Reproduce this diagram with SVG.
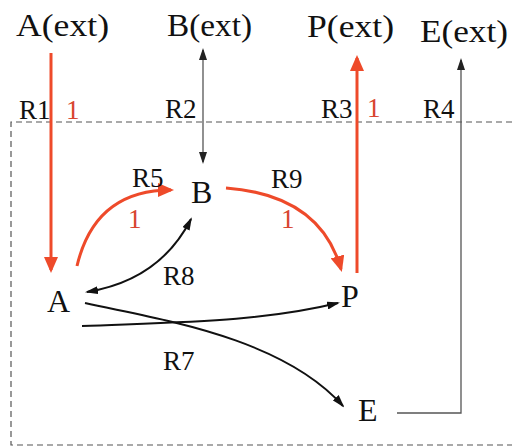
<svg xmlns="http://www.w3.org/2000/svg" width="512" height="448" viewBox="0 0 512 448">
<style>
text{font-family:"Liberation Serif","Times New Roman",serif;fill:#111}
.ext{font-size:31px}
.node{font-size:32px}
.rl{font-size:27px}
.one{font-size:27px;fill:#d8452f}
.red{fill:none;stroke:#ee4a2a;stroke-width:3}
.blk{fill:none;stroke:#111;stroke-width:2}
.gry{fill:none;stroke:#555;stroke-width:1.3}
.box{fill:none;stroke:#555;stroke-width:1.2;stroke-dasharray:6 4}
</style>
<defs>
<marker id="hr" viewBox="0 0 16 14" refX="13" refY="7" markerWidth="16" markerHeight="14" markerUnits="userSpaceOnUse" orient="auto"><path d="M0,0 L16,7 L0,14 z" fill="#ee4a2a"/></marker>
<marker id="hb" viewBox="0 0 13 8" refX="11" refY="4" markerWidth="13" markerHeight="8" markerUnits="userSpaceOnUse" orient="auto-start-reverse"><path d="M0,0 L13,4 L0,8 z" fill="#111"/></marker>
<marker id="hg" viewBox="0 0 12 8" refX="10" refY="4" markerWidth="12" markerHeight="8" markerUnits="userSpaceOnUse" orient="auto-start-reverse"><path d="M0,0 L12,4 L0,8 z" fill="#222"/></marker>
</defs>
<rect width="512" height="448" fill="#fff"/>
<path class="box" d="M512,122 H11 V445 H512"/>
<g id="A_ext"><text class="ext" x="16" y="36" textLength="93" lengthAdjust="spacingAndGlyphs">A(ext)</text></g>
<g id="B_ext"><text class="ext" x="167" y="36" textLength="85" lengthAdjust="spacingAndGlyphs">B(ext)</text></g>
<g id="P_ext"><text class="ext" x="307" y="37" textLength="87" lengthAdjust="spacingAndGlyphs">P(ext)</text></g>
<g id="E_ext"><text class="ext" x="420" y="42" textLength="88" lengthAdjust="spacingAndGlyphs">E(ext)</text></g>
<g id="A"><text class="node" x="47" y="312">A</text></g>
<g id="B"><text class="node" x="191" y="203">B</text></g>
<g id="P"><text class="node" x="341" y="307">P</text></g>
<g id="E"><text class="node" x="358" y="421">E</text></g>
<g id="connectors">
<path class="red" d="M51,53 V270" marker-end="url(#hr)"/>
<path class="red" d="M357,273 V58" marker-end="url(#hr)"/>
<path class="gry" d="M203,50 V162" marker-start="url(#hg)" marker-end="url(#hg)"/>
<path class="gry" d="M397,413 H461 V60" marker-end="url(#hg)"/>
<path class="red" d="M77,266 Q95,190 171,190" marker-end="url(#hr)"/>
<path class="red" d="M226,188 Q320,195 341,269" marker-end="url(#hr)"/>
<path class="blk" d="M87,292 Q160,280 191,219" marker-start="url(#hb)" marker-end="url(#hb)"/>
<path class="blk" d="M82,326 C180,322 260,322 338,303" marker-end="url(#hb)"/>
<path class="blk" d="M85,303 C150,318 280,335 343,406" marker-end="url(#hb)"/>
</g>
<g id="labels">
<text class="rl" x="19" y="119">R1</text>
<text class="one" x="66" y="119">1</text>
<text class="rl" x="165" y="118">R2</text>
<text class="rl" x="321" y="118">R3</text>
<text class="one" x="367" y="117">1</text>
<text class="rl" x="423" y="118">R4</text>
<text class="rl" x="132" y="187">R5</text>
<text class="one" x="128" y="228">1</text>
<text class="rl" x="271" y="188">R9</text>
<text class="one" x="281" y="228">1</text>
<text class="rl" x="163" y="285">R8</text>
<text class="rl" x="163" y="370">R7</text>
</g>
</svg>
